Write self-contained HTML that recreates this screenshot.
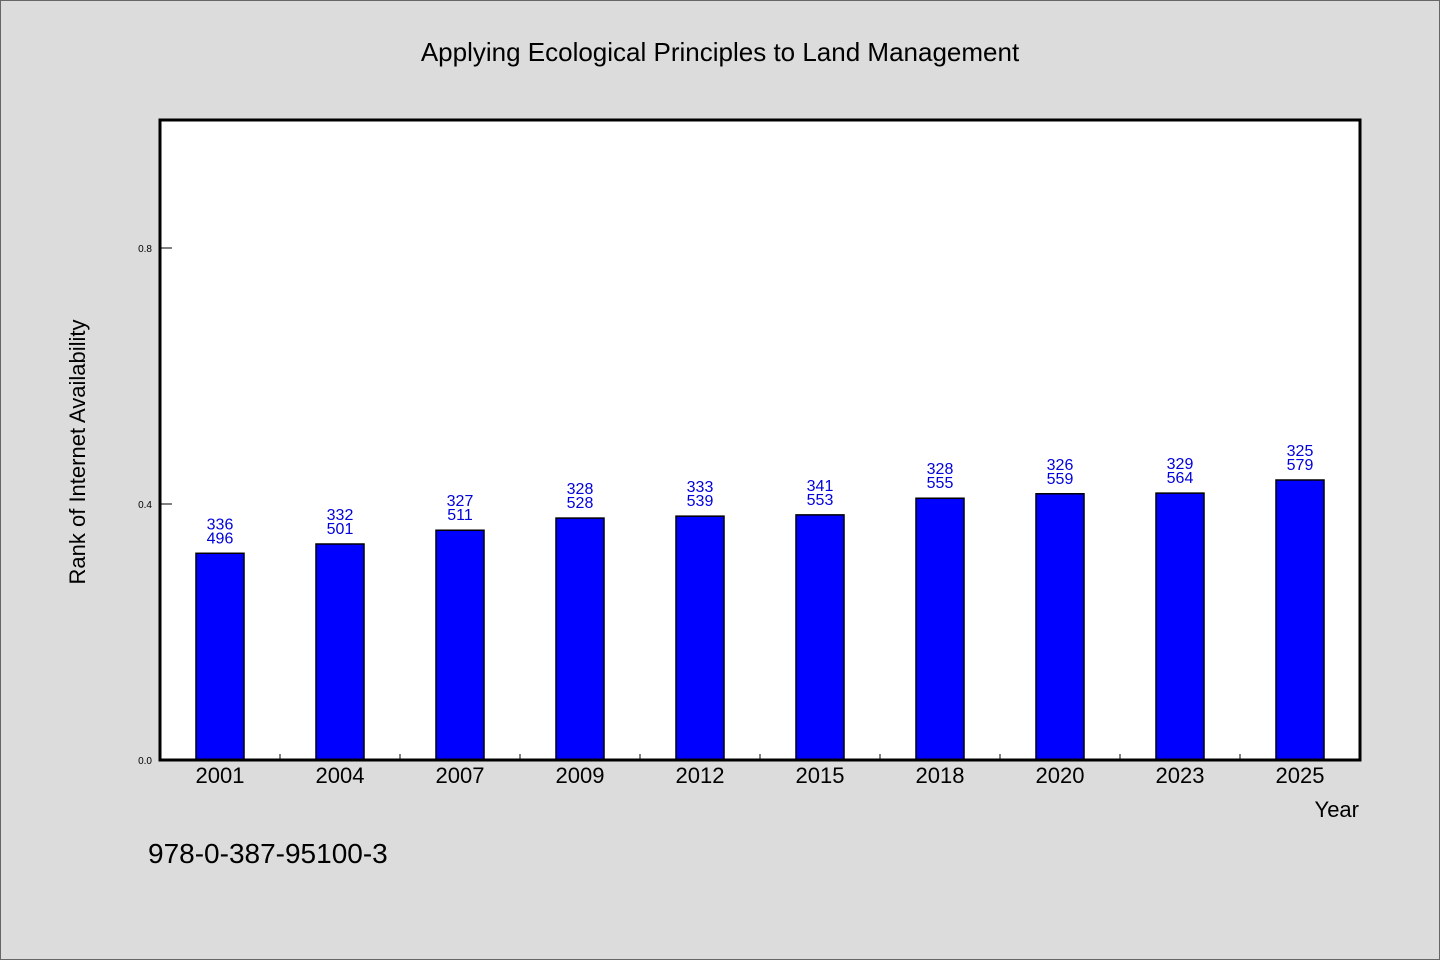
<!DOCTYPE html>
<html><head><meta charset="utf-8"><style>
html,body{margin:0;padding:0;background:#dcdcdc;}
svg{display:block;}
text{font-family:"WenQuanYi Zen Hei","Liberation Sans",sans-serif;}
</style></head><body>
<svg id="chart" width="1440" height="960" xmlns="http://www.w3.org/2000/svg">
<rect x="0.5" y="0.5" width="1439" height="959" fill="#dcdcdc" stroke="#666" stroke-width="1"/>
<text x="720" y="61" font-size="26" text-anchor="middle" fill="#000">Applying Ecological Principles to Land Management</text>
<rect x="160" y="120" width="1201" height="641" fill="#fff"/>
<g id="bars"></g>
<g id="axes"></g>
<text transform="translate(85,452) rotate(-90)" font-size="22" text-anchor="middle" fill="#000">Rank of Internet Availability</text>
<text x="1359" y="817" font-size="22" text-anchor="end" fill="#000">Year</text>
<text x="148" y="863" font-size="28" fill="#000">978-0-387-95100-3</text>
</svg>
<script>
const categories = ["2001","2004","2007","2009","2012","2015","2018","2020","2023","2025"];
const values = [0.323,0.3375,0.359,0.378,0.381,0.383,0.409,0.416,0.417,0.4375];
const labelTop = ["336","332","327","328","333","341","328","326","329","325"];
const labelBottom = ["496","501","511","528","539","553","555","559","564","579"];
const yTicks = [0.0,0.4,0.8];
const yTickLabels = ["0.0","0.4","0.8"];

const NS="http://www.w3.org/2000/svg";
const x0=160, x1=1360, y0=760, yTop=120, yMax=1.0;
const band=(x1-x0)/categories.length;
function xScale(i){return x0+band*(i+0.5);}
function yScale(v){return y0-(v/yMax)*(y0-yTop);}
function mk(tag,attrs,parent){const e=document.createElementNS(NS,tag);for(const k in attrs)e.setAttribute(k,attrs[k]);parent.appendChild(e);return e;}
const gb=document.getElementById('bars'), ga=document.getElementById('axes');
const bw=48;
categories.forEach((c,i)=>{
  const cx=xScale(i), yt=yScale(values[i]);
  const r=mk('rect',{x:cx-bw/2,y:yt,width:bw,height:y0-yt,fill:'#0000ff',stroke:'#000','stroke-width':1.5},gb);
  
  
  const t1=mk('text',{x:cx,y:yt-24,'font-size':16,'text-anchor':'middle',fill:'#0000dd'},gb);
  t1.textContent=labelTop[i];
  
  
  const t2=mk('text',{x:cx,y:yt-10,'font-size':16,'text-anchor':'middle',fill:'#0000dd'},gb);
  t2.textContent=labelBottom[i];
  
  
  const xl=mk('text',{x:cx,y:783,'font-size':22,'text-anchor':'middle',fill:'#000'},ga);
  xl.textContent=c;
  
  
  if(i>0){
    const tk=mk('line',{x1:x0+band*i,x2:x0+band*i,y1:y0,y2:y0-6,stroke:'#000','stroke-width':1},ga);
    
    
  }
});
yTicks.forEach((v,i)=>{
  const y=yScale(v);
  const tk=mk('line',{x1:x0,x2:x0+12,y1:y,y2:y,stroke:'#000','stroke-width':1},ga);
  
  
  const tl=mk('text',{x:152,y:y+4,'font-size':10,'text-anchor':'end',fill:'#000'},ga);
  tl.textContent=yTickLabels[i];
  
  
});
const frame=mk('rect',{x:160,y:120,width:1200,height:640,fill:'none',stroke:'#000','stroke-width':3},ga);


</script>
</body></html>
